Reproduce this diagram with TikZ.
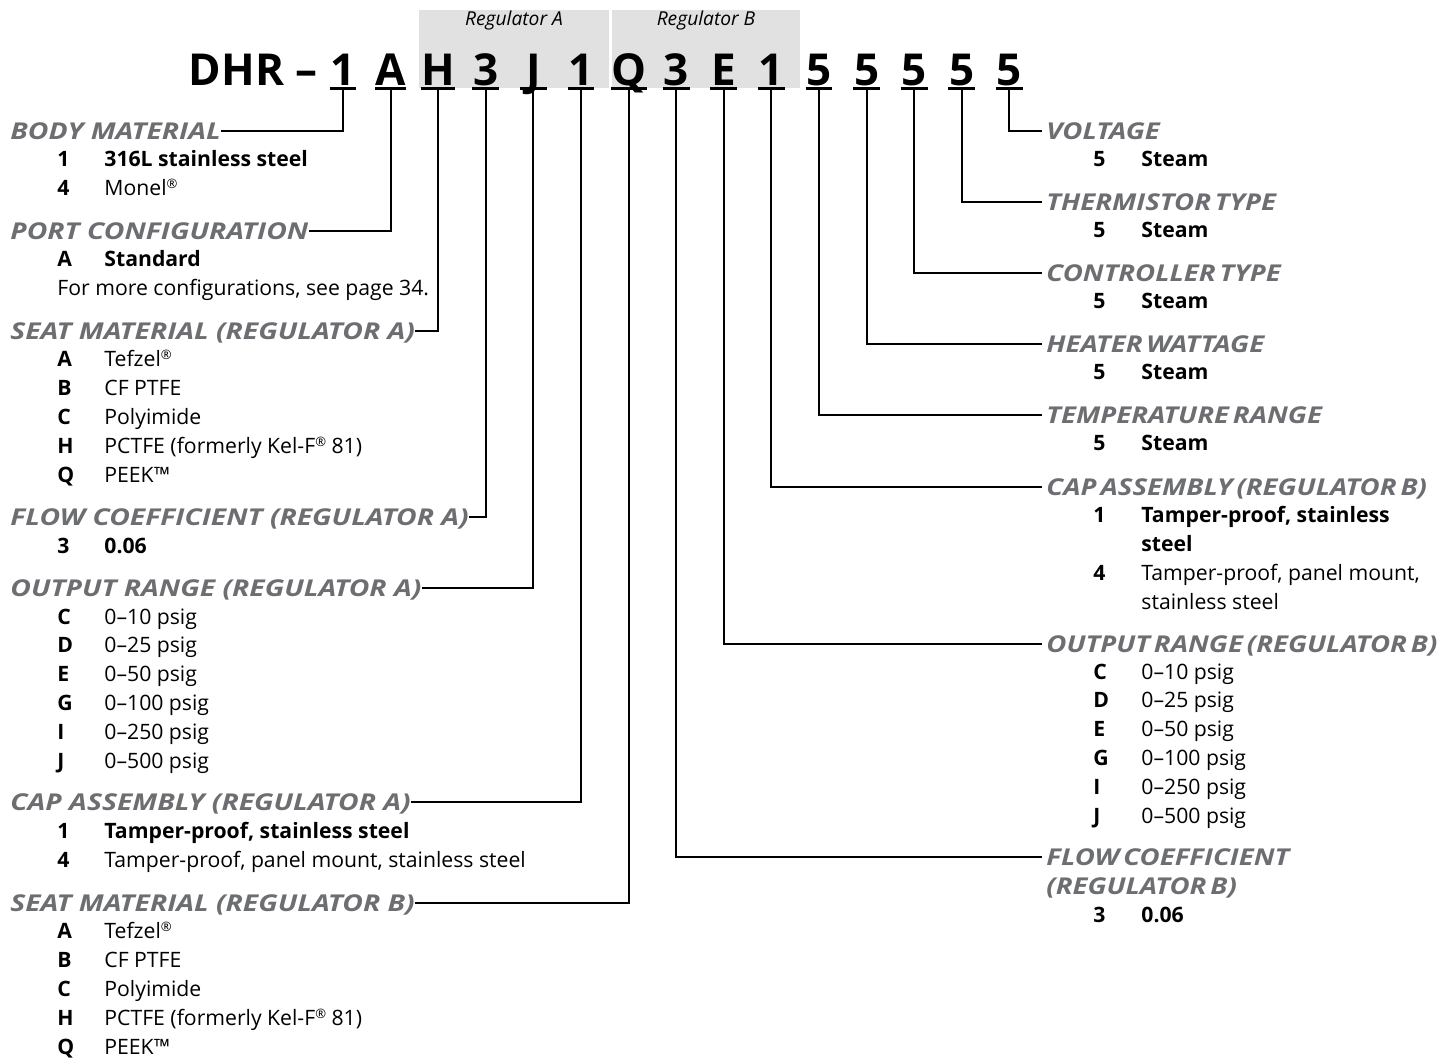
\documentclass[tikz,border=0pt]{standalone}
\usepackage{fontspec}
\setmainfont{Open Sans}
\newfontfamily\fieldfont[FakeStretch=1.22]{Open Sans}
\newfontfamily\rfieldfont[FakeStretch=1.19, WordSpace=0.55]{Open Sans}
\usetikzlibrary{positioning}
\definecolor{titlegray}{HTML}{6D6E71}
\definecolor{boxgray}{HTML}{E1E1E1}
\newcommand{\regmark}{\raisebox{0.55ex}{\fontsize{6.5}{7}\selectfont ®}}

\tikzset{
  code/.style={font=\fontsize{22}{24}\selectfont\bfseries, inner sep=0pt,
    text depth=1.5pt, minimum width=13pt, anchor=base},
  uline/.style={line width=1.1pt},
  field/.style={font=\fieldfont\fontsize{11.6}{13}\selectfont\bfseries\itshape,
    text=titlegray, inner sep=0pt, text height=8.2pt, text depth=0pt, anchor=west},
  rfield/.style={field, font=\rfieldfont\fontsize{11.6}{13}\selectfont\bfseries\itshape},
  key/.style={font=\fontsize{10.6}{12}\selectfont\bfseries, inner sep=0pt, anchor=base west},
  val/.style={font=\fontsize{10.6}{12}\selectfont, inner sep=0pt, anchor=base west},
  bval/.style={val, font=\fontsize{10.6}{12}\selectfont\bfseries},
  reg/.style={font=\fontsize{9.6}{11}\selectfont\itshape, inner sep=0pt},
  conn/.style={line width=1pt}
}

\begin{document}
\begin{tikzpicture}[x=0.5pt, y=-0.5pt]
    \useasboundingbox (0,0) rectangle (1449,1057);

    % regulator bands
    \fill[boxgray] (419,10) rectangle (609,88);
    \fill[boxgray] (612,10) rectangle (800,88);
    \node[reg] (regA) at (514,21) {Regulator A};
    \node[reg] (regB) at (706,21) {Regulator B};

    % order code
    \node[code, anchor=base east] (dhr) at (318,85) {DHR --};
    \foreach \ch [count=\i from 0] in {1,A,H,3,J,1,Q,3,E,1,5,5,5,5,5}
        \node[code] (c\i) at ({343+47.6*\i},85) {\ch};
    \foreach \i in {0,...,14}
        \draw[uline] (c\i.south west) -- (c\i.south east);

    % left fields
    \node[field] (body) at (10,131) {BODY MATERIAL};
    \node[key] (body1k) at (57,166) {1};
    \node[bval] (body1v) at (104,166) {316L stainless steel};
    \node[key] (body2k) at (57,195) {4};
    \node[val] (body2v) at (104,195) {Monel\regmark};

    \node[field] (port) at (10,231) {PORT CONFIGURATION};
    \node[key] (port1k) at (57,266) {A};
    \node[bval] (port1v) at (104,266) {Standard};
    \node[val] (portnote) at (57,295) {For more configurations, see page 34.};

    \node[field] (seatA) at (10,331) {SEAT MATERIAL (REGULATOR A)};
    \foreach \k/\v [count=\n from 0] in {A/Tefzel\regmark, B/CF PTFE, C/Polyimide,
        H/PCTFE (formerly Kel-F\regmark\ 81), Q/PEEK™}{
        \node[key] (seatAk\n) at (57,{366+29*\n}) {\k};
        \node[val] (seatAv\n) at (104,{366+29*\n}) {\v};
    }

    \node[field] (flowA) at (10,517) {FLOW COEFFICIENT (REGULATOR A)};
    \node[key] (flowA1k) at (57,553) {3};
    \node[bval] (flowA1v) at (104,553) {0.06};

    \node[field] (outA) at (10,588) {OUTPUT RANGE (REGULATOR A)};
    \foreach \k/\v [count=\n from 0] in {C/0--10, D/0--25, E/0--50, G/0--100, I/0--250, J/0--500}{
        \node[key] (outAk\n) at (57,{624+28.8*\n}) {\k};
        \node[val] (outAv\n) at (104,{624+28.8*\n}) {\v\ psig};
    }

    \node[field] (capA) at (10,802) {CAP ASSEMBLY (REGULATOR A)};
    \node[key] (capA1k) at (57,838) {1};
    \node[bval] (capA1v) at (104,838) {Tamper-proof, stainless steel};
    \node[key] (capA2k) at (57,867) {4};
    \node[val] (capA2v) at (104,867) {Tamper-proof, panel mount, stainless steel};

    \node[field] (seatB) at (10,903) {SEAT MATERIAL (REGULATOR B)};
    \foreach \k/\v [count=\n from 0] in {A/Tefzel\regmark, B/CF PTFE, C/Polyimide,
        H/PCTFE (formerly Kel-F\regmark\ 81), Q/PEEK™}{
        \node[key] (seatBk\n) at (57,{938+29*\n}) {\k};
        \node[val] (seatBv\n) at (104,{938+29*\n}) {\v};
    }

    % right fields
    \foreach \f/\t/\y in {volt/VOLTAGE/131, therm/THERMISTOR TYPE/202,
        ctrl/CONTROLLER TYPE/273, heater/HEATER WATTAGE/344, temp/TEMPERATURE RANGE/415}{
        \node[rfield] (\f) at (1046,\y) {\t};
        \node[key] (\f1k) at (1093,\y+35) {5};
        \node[bval] (\f1v) at (1141,\y+35) {Steam};
    }

    \node[rfield] (capB) at (1046,487) {CAP ASSEMBLY (REGULATOR B)};
    \node[key] (capB1k) at (1093,522) {1};
    \node[bval] (capB1v) at (1141,522) {Tamper-proof, stainless};
    \node[bval] (capB1w) at (1141,551) {steel};
    \node[key] (capB2k) at (1093,580) {4};
    \node[val] (capB2v) at (1141,580) {Tamper-proof, panel mount,};
    \node[val] (capB2w) at (1141,609) {stainless steel};

    \node[rfield] (outB) at (1046,644) {OUTPUT RANGE (REGULATOR B)};
    \foreach \k/\v [count=\n from 0] in {C/0--10, D/0--25, E/0--50, G/0--100, I/0--250, J/0--500}{
        \node[key] (outBk\n) at (1093,{679+28.8*\n}) {\k};
        \node[val] (outBv\n) at (1141,{679+28.8*\n}) {\v\ psig};
    }

    \node[rfield] (flowB) at (1046,857) {FLOW COEFFICIENT};
    \node[rfield] (flowBb) at (1046,886) {(REGULATOR B)};
    \node[key] (flowB1k) at (1093,922) {3};
    \node[bval] (flowB1v) at (1141,922) {0.06};

    % leaders
    \draw[conn] (c0.south) |- (body.east);
    \draw[conn] (c1.south) |- (port.east);
    \draw[conn] (c2.south) |- (seatA.east);
    \draw[conn] (c3.south) |- (flowA.east);
    \draw[conn] (c4.south) |- (outA.east);
    \draw[conn] (c5.south) |- (capA.east);
    \draw[conn] (c6.south) |- (seatB.east);
    \draw[conn] (c7.south) |- ([xshift=-2pt]flowB.west);
    \draw[conn] (c8.south) |- ([xshift=-2pt]outB.west);
    \draw[conn] (c9.south) |- ([xshift=-2pt]capB.west);
    \draw[conn] (c10.south) |- ([xshift=-2pt]temp.west);
    \draw[conn] (c11.south) |- ([xshift=-2pt]heater.west);
    \draw[conn] (c12.south) |- ([xshift=-2pt]ctrl.west);
    \draw[conn] (c13.south) |- ([xshift=-2pt]therm.west);
    \draw[conn] (c14.south) |- ([xshift=-2pt]volt.west);
\end{tikzpicture}
\end{document}
